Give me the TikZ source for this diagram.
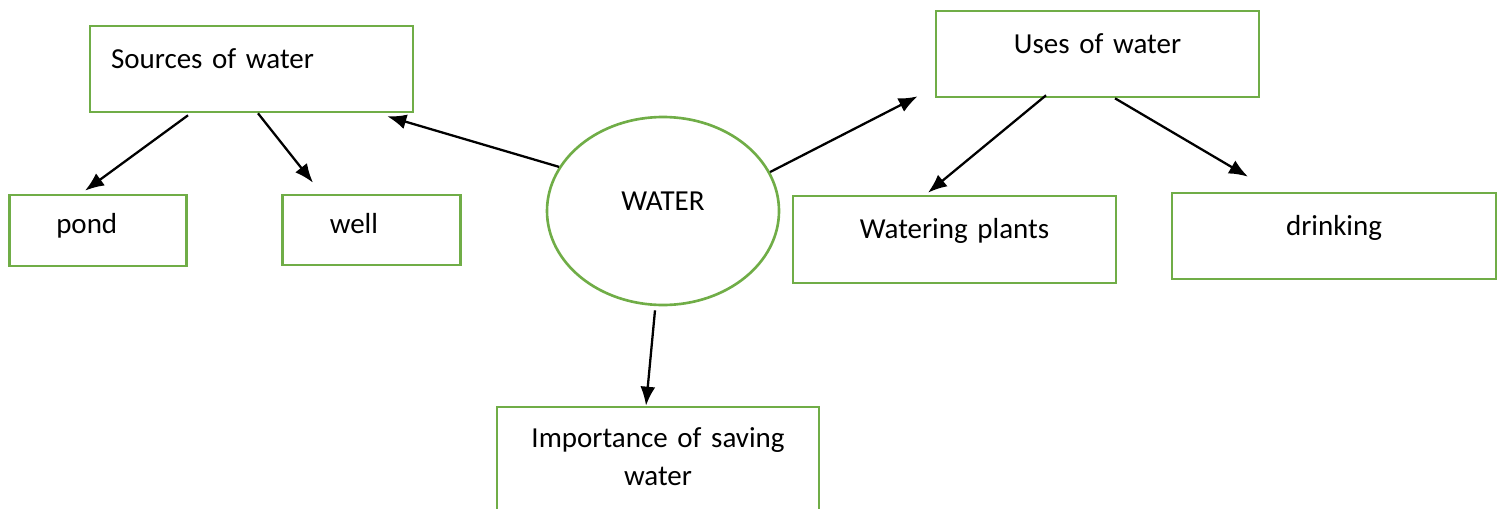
\documentclass[tikz,border=0pt]{standalone}
\usepackage{fontspec}
\setmainfont{Carlito}
\usepackage{tikz}
\usetikzlibrary{shapes.geometric,arrows.meta}
\definecolor{leafgreen}{HTML}{70AD47}
\tikzset{
topic/.style={rectangle,draw=leafgreen,line width=1.5pt,inner sep=0pt,text height=0.84cm,text depth=0.88cm,text width=6.46cm,align=center,anchor=base},
item/.style={rectangle,draw=leafgreen,line width=1.5pt,inner ysep=0pt,inner xsep=0.94cm,text height=0.76cm,text depth=0.66cm,text width=1.67cm,align=left,anchor=base},
hub/.style={ellipse,draw=leafgreen,line width=1.5pt,inner sep=0pt,text height=0.3cm,text depth=0.34cm,minimum width=4.64cm,minimum height=3.76cm,anchor=base},
link/.style={-{Latex[length=0.38cm,width=0.3cm]},line width=1.3pt,draw=black},
}

\begin{document}
\begin{tikzpicture}[font=\fontsize{16.5}{22}\selectfont]
\useasboundingbox (0,0) rectangle (30,-10.16);
\node[hub] (water) at (13.26,-4.20) {WATER};
\node[topic,inner xsep=0.42cm,text width=5.62cm,align=left] (sources) at (5.03,-1.36) {Sources of water};
\node[item] (pond) at (1.96,-4.66) {pond};
\node[item,text depth=0.64cm] (well) at (7.43,-4.66) {well};
\node[topic] (uses) at (21.95,-1.06) {Uses of water};
\node[topic,text depth=0.9cm] (watering) at (19.09,-4.76) {Watering plants};
\node[topic,text width=6.48cm] (drinking) at (26.68,-4.70) {drinking};
\node[topic,text height=0.8cm,text depth=2.2cm,text width=6.44cm] (saving) at (13.16,-8.94) {Importance of saving\\water};

\draw[link] (water.157) -- ([xshift=-0.54cm,yshift=-0.06cm]sources.south east);
\draw[link] ([xshift=-1.27cm,yshift=-0.04cm]sources.south) -- ([xshift=-0.26cm,yshift=0.06cm]pond.north);
\draw[link] ([xshift=0.13cm]sources.south) -- ([xshift=-1.17cm,yshift=0.22cm]well.north);
\draw[link] (water.20) -- ([xshift=-0.34cm,yshift=0.04cm]uses.south west);
\draw[link] ([xshift=-1.03cm,yshift=0.06cm]uses.south) -- ([xshift=-0.53cm,yshift=0.04cm]watering.north);
\draw[link] ([xshift=0.35cm]uses.south) -- ([xshift=-1.72cm,yshift=0.3cm]drinking.north);
\draw[link] ([xshift=-0.16cm,yshift=-0.08cm]water.south) -- ([xshift=-0.24cm]saving.north);
\end{tikzpicture}
\end{document}
